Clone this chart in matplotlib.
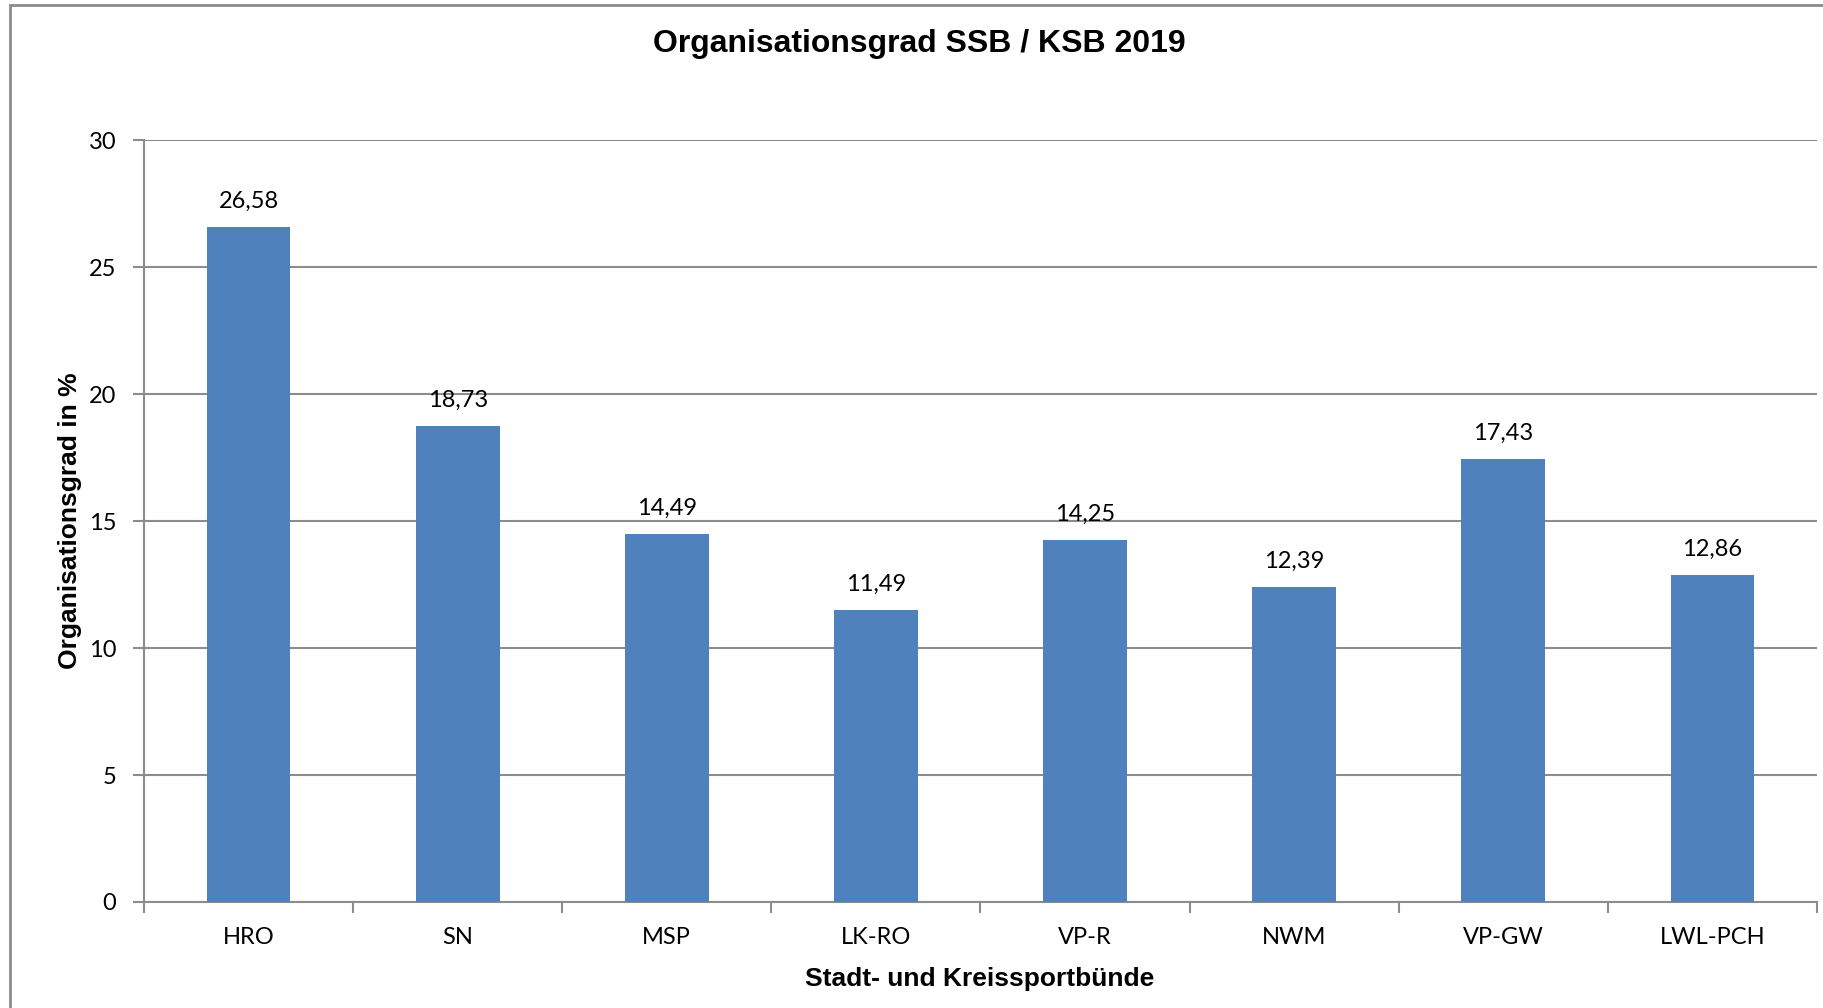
import matplotlib
matplotlib.use("Agg")
import matplotlib.pyplot as plt
from matplotlib.patches import Rectangle

categories = ["HRO", "SN", "MSP", "LK-RO", "VP-R", "NWM", "VP-GW", "LWL-PCH"]
values = [26.58, 18.73, 14.49, 11.49, 14.25, 12.39, 17.43, 12.86]
yticks = [0, 5, 10, 15, 20, 25, 30]

W, H = 1824, 1008
fig = plt.figure(figsize=(W / 100, H / 100), dpi=100)
fig.patch.set_facecolor("white")

# outer chart border (cropped at right and bottom)
fig.add_artist(Rectangle((10 / W, -0.05), 1.2, 1 - 5 / H + 0.05, transform=fig.transFigure,
                         fill=False, edgecolor="#8c8c8c", linewidth=2.0))

left, right, top, bottom = 144, 1817, 140, 902
ax = fig.add_axes([left / W, 1 - bottom / H, (right - left) / W, (bottom - top) / H])

x = list(range(len(categories)))
bars = ax.bar(x, values, width=0.4, color="#4F81BD", zorder=3)
ax.set_xlim(-0.5, len(categories) - 0.5)
ax.set_ylim(0, 30)
ax.set_yticks(yticks)
ax.set_yticklabels([str(t) for t in yticks])
ax.set_xticks(x)
ax.set_xticklabels(categories)
ax.set_xticks([i - 0.5 for i in range(len(categories) + 1)], minor=True)

for lbl in ax.get_xticklabels() + ax.get_yticklabels():
    lbl.set_fontfamily("Lato")
    lbl.set_fontsize(17)

ax.tick_params(axis="x", which="major", length=0, pad=18)
ax.tick_params(axis="x", which="minor", length=8, width=1.5, color="#8c8c8c")
ax.tick_params(axis="y", which="major", length=8, width=1.5, color="#8c8c8c", pad=12)

ax.grid(axis="y", color="#8c8c8c", linewidth=1.5, zorder=0)
for s in ["top", "right"]:
    ax.spines[s].set_visible(False)
for s in ["left", "bottom"]:
    ax.spines[s].set_color("#8c8c8c")
    ax.spines[s].set_linewidth(1.5)

for xi, v in zip(x, values):
    ax.annotate(f"{v:.2f}".replace(".", ","), (xi, v), xytext=(0, 11), textcoords="offset points",
                ha="center", va="bottom", fontfamily="Lato", fontsize=17)

fig.text(919 / W, 1 - 44 / H, "Organisationsgrad SSB / KSB 2019", ha="center", va="center",
         fontfamily="Liberation Sans", fontweight="bold", fontsize=23)
fig.text(70 / W, 1 - 521 / H, "Organisationsgrad in %", ha="center", va="center", rotation=90,
         fontfamily="Liberation Sans", fontweight="bold", fontsize=19)
fig.text(980 / W, 1 - 979 / H, "Stadt- und Kreissportbünde", ha="center", va="center",
         fontfamily="Liberation Sans", fontweight="bold", fontsize=19)

fig.savefig("out.png", dpi=100, facecolor="white")
